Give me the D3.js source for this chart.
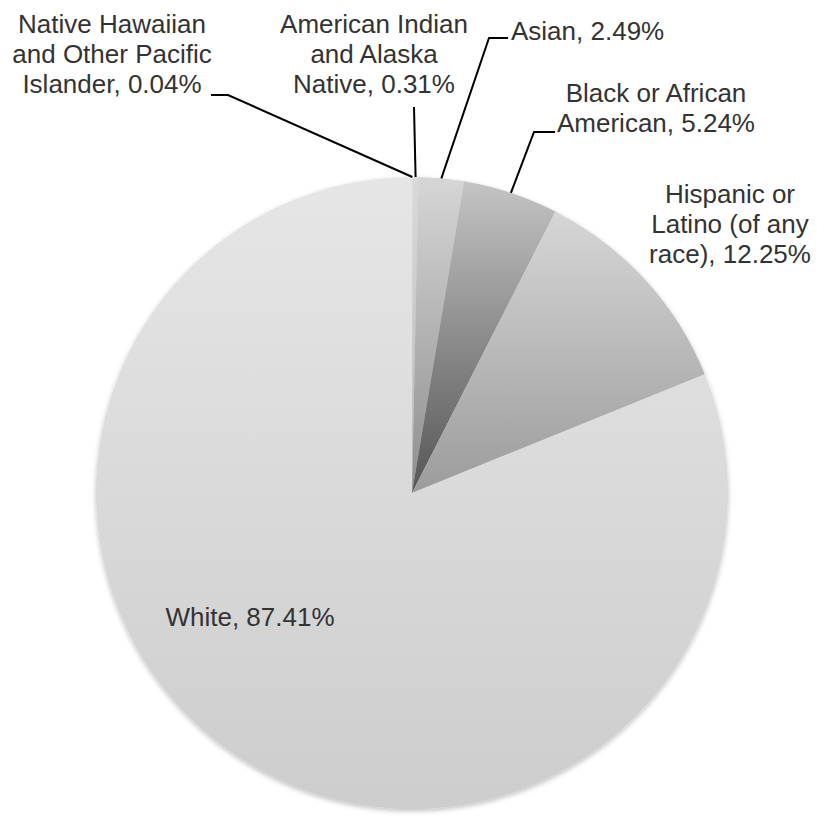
<!DOCTYPE html>
<html>
<head>
<meta charset="utf-8">
<script src="https://cdn.jsdelivr.net/npm/d3@7"></script>
<style>
  body { margin: 0; background: #fff; }
  text { font-family: "Liberation Sans", Arial, sans-serif; fill: #333; }
  .leader { fill: none; stroke: #000; stroke-width: 2; }
</style>
</head>
<body>
<div id="chart"></div>
<script>

// data (clockwise from 12 o'clock)
var categories = ["Native Hawaiian and Other Pacific Islander", "American Indian and Alaska Native",
                  "Asian", "Black or African American", "Hispanic or Latino (of any race)", "White"];
var values = [0.04, 0.31, 2.49, 5.24, 12.25, 87.41];
var labelLines = [
  ["Native Hawaiian", "and Other Pacific", "Islander, 0.04%"],
  ["American Indian", "and Alaska", "Native, 0.31%"],
  ["Asian, 2.49%"],
  ["Black or African", "American, 5.24%"],
  ["Hispanic or", "Latino (of any", "race), 12.25%"],
  ["White, 87.41%"]
];
// gradient shades per slice, top -> bottom
var shadeTop = ["#dedede", "#dadada", "#d6d6d6", "#c4c4c4", "#d6d6d6", "#e6e6e6"];
var shadeBottom = ["#c8c8c8", "#b4b4b4", "#8e8e8e", "#555555", "#9c9c9c", "#cdcdcd"];

var width = 817, height = 816;
var cx = 412, cy = 493, radius = 316;

var svg = d3.select("#chart").append("svg")
    .attr("width", width)
    .attr("height", height);

var defs = svg.append("defs");

var shadow = defs.append("filter")
    .attr("id", "shadow")
    .attr("x", "-10%").attr("y", "-10%")
    .attr("width", "120%").attr("height", "120%");
shadow.append("feDropShadow")
    .attr("dx", 0).attr("dy", 2)
    .attr("stdDeviation", 2.5)
    .attr("flood-color", "#000")
    .attr("flood-opacity", 0.25);

values.forEach(function(v, i) {
  var g = defs.append("linearGradient")
      .attr("id", "grad" + i)
      .attr("x1", 0).attr("y1", 0).attr("x2", 0).attr("y2", 1);
  g.append("stop").attr("offset", "0%").attr("stop-color", shadeTop[i]);
  g.append("stop").attr("offset", "100%").attr("stop-color", shadeBottom[i]);
});

var pie = d3.pie().sort(null).value(function(d) { return d; });
var arcs = pie(values);

var arc = d3.arc().innerRadius(0).outerRadius(radius);

var pieG = svg.append("g")
    .attr("transform", "translate(" + cx + "," + cy + ")");

pieG.append("g")
    .attr("filter", "url(#shadow)")
  .selectAll("path")
  .data(arcs)
  .enter().append("path")
    .attr("d", arc)
    .attr("fill", function(d, i) { return "url(#grad" + i + ")"; });

// label layout: text anchor point, and leader elbow (null = no leader)
var labelPos = [
  {x: 112, y: 33, anchor: "middle", elbow: [[211, 95], [228, 95]]},
  {x: 374, y: 33, anchor: "middle", elbow: [[414, 107]]},
  {x: 511, y: 40, anchor: "start", elbow: [[508, 38], [489, 38]]},
  {x: 656, y: 102, anchor: "middle", elbow: [[555, 132], [534, 132]]},
  {x: 730, y: 203, anchor: "middle", elbow: null},
  {x: 250, y: 626, anchor: "middle", elbow: null}
];

var lineH = 30;

var labels = svg.append("g").selectAll("text")
  .data(arcs)
  .enter().append("text")
    .attr("text-anchor", function(d, i) { return labelPos[i].anchor; })
    .attr("font-size", 26)
    .attr("x", function(d, i) { return labelPos[i].x; })
    .attr("y", function(d, i) { return labelPos[i].y; });

labels.each(function(d, i) {
  var t = d3.select(this);
  labelLines[i].forEach(function(line, j) {
    t.append("tspan")
      .attr("x", labelPos[i].x)
      .attr("dy", j === 0 ? 0 : lineH)
      .text(line);
  });
});

// leader lines from the label to the slice edge
var line = d3.line();
svg.append("g").selectAll("path")
  .data(arcs.filter(function(d, i) { return labelPos[i].elbow; }))
  .enter().append("path")
    .attr("class", "leader")
    .attr("d", function(d) {
      var i = d.index;
      var mid = (d.startAngle + d.endAngle) / 2;
      var e = [cx + radius * Math.sin(mid), cy - radius * Math.cos(mid)];
      return line(labelPos[i].elbow.concat([e]));
    });

</script>
</body>
</html>
